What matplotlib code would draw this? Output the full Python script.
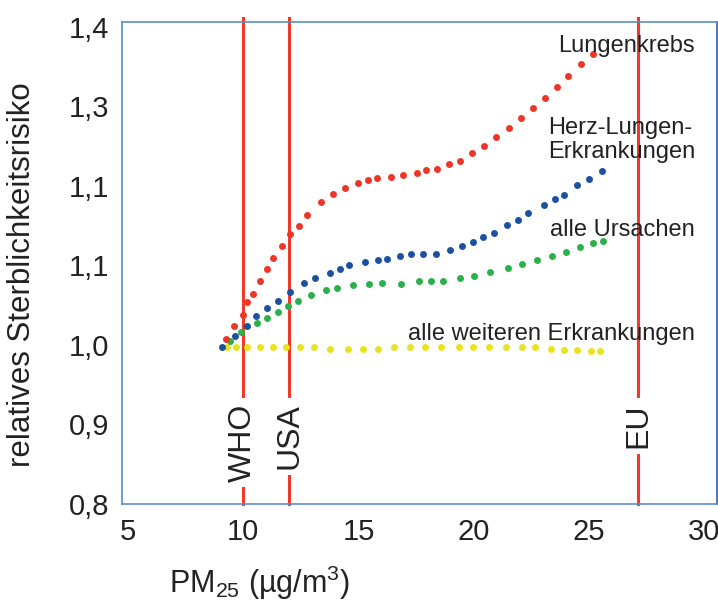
import matplotlib
matplotlib.use("Agg")
import matplotlib.pyplot as plt

plt.rcParams['font.family'] = ['Liberation Sans', 'DejaVu Sans']
plt.rcParams['mathtext.fontset'] = 'custom'
plt.rcParams['mathtext.rm'] = 'Liberation Sans'

# Lungenkrebs
lung_x = [9.24, 9.59, 9.98, 10.17, 10.43, 10.72, 11.03, 11.31, 11.70, 12.03, 12.41, 12.76,
          13.37, 13.91, 14.41, 14.96, 15.40, 15.82, 16.40, 16.95, 17.54, 17.95, 18.43, 18.93,
          19.43, 19.93, 20.47, 20.98, 21.53, 22.05, 22.58, 23.12, 23.62, 24.11, 24.67, 25.17]
lung_y = [1.008, 1.024, 1.038, 1.054, 1.064, 1.080, 1.096, 1.110, 1.124, 1.140, 1.150, 1.163,
          1.180, 1.190, 1.198, 1.204, 1.207, 1.210, 1.211, 1.214, 1.216, 1.220, 1.221, 1.227,
          1.231, 1.241, 1.250, 1.261, 1.273, 1.285, 1.298, 1.311, 1.325, 1.338, 1.353, 1.366]

# Herz-Lungen-Erkrankungen
herz_x = [9.07, 9.62, 10.14, 10.57, 11.03, 11.51, 12.01, 12.62, 13.12, 13.75, 14.20, 14.61,
          15.30, 15.85, 16.26, 16.80, 17.30, 17.79, 18.38, 18.99, 19.48, 19.98, 20.40, 20.88,
          21.43, 21.93, 22.38, 23.08, 23.53, 23.93, 24.51, 25.01, 25.57]
herz_y = [0.998, 1.011, 1.024, 1.036, 1.046, 1.055, 1.067, 1.078, 1.084, 1.091, 1.096, 1.101,
          1.104, 1.107, 1.108, 1.112, 1.114, 1.115, 1.115, 1.120, 1.124, 1.130, 1.136, 1.141,
          1.151, 1.157, 1.166, 1.176, 1.183, 1.189, 1.201, 1.209, 1.219]

# alle Ursachen
alle_x = [9.43, 9.88, 10.60, 11.02, 11.51, 11.93, 12.36, 12.93, 13.57, 14.06, 14.77, 15.47,
          16.04, 16.85, 17.64, 18.16, 18.69, 19.39, 20.01, 20.73, 21.48, 22.11, 22.77, 23.41,
          24.01, 24.61, 25.20, 25.61]
alle_y = [1.005, 1.016, 1.028, 1.034, 1.042, 1.049, 1.055, 1.063, 1.069, 1.072, 1.075, 1.077,
          1.078, 1.077, 1.080, 1.080, 1.081, 1.084, 1.087, 1.092, 1.097, 1.102, 1.107, 1.112,
          1.117, 1.123, 1.128, 1.131]

# alle weiteren Erkrankungen
weitere_x = [9.27, 9.67, 10.14, 10.72, 11.31, 11.84, 12.46, 13.08, 13.75, 14.56, 15.20, 15.83,
             16.54, 17.24, 17.88, 18.57, 19.38, 19.96, 20.67, 21.41, 22.11, 22.66, 23.35, 23.92,
             24.51, 25.08, 25.51]
weitere_y = [0.998, 0.997, 0.997, 0.997, 0.997, 0.997, 0.997, 0.997, 0.995, 0.995, 0.995, 0.995,
             0.997, 0.997, 0.997, 0.997, 0.998, 0.998, 0.998, 0.998, 0.998, 0.997, 0.995, 0.994,
             0.994, 0.993, 0.993]

# Grenzwerte
limit_x = [10, 12, 27.15]
limit_names = ["WHO", "USA", "EU"]

y_ticks = [0.8, 0.9, 1.0, 1.1, 1.2, 1.3, 1.4]
y_tick_labels = ["0,8", "0,9", "1,0", "1,1", "1,1", "1,3", "1,4"]
x_ticks = [5, 10, 15, 20, 25, 30]

fig = plt.figure(figsize=(7.18, 6.02), dpi=100)
ax = fig.add_axes([0.1696, 0.1628, 0.8286, 0.8012])

line_red = "#ee3a2a"
for x, name in zip(limit_x, limit_names):
    ax.axvline(x, ymin=0, ymax=1.008, color=line_red, linewidth=2.2, clip_on=False, zorder=1)
    ax.text(x, 0.9266, name, rotation=90, ha="center", va="top", fontsize=23, color="#222222",
            bbox=dict(boxstyle="square,pad=0.18", facecolor="white", edgecolor="none"), zorder=2)

ax.plot(weitere_x, weitere_y, 'o', color="#e6e41e", markersize=5, markeredgewidth=0, zorder=3)
ax.plot(alle_x, alle_y, 'o', color="#2bb04a", markersize=5, markeredgewidth=0, zorder=3)
ax.plot(herz_x, herz_y, 'o', color="#1c50a0", markersize=5, markeredgewidth=0, zorder=3)
ax.plot(lung_x, lung_y, 'o', color="#ee3526", markersize=5, markeredgewidth=0, zorder=3)

txt = dict(fontsize=17, color="#222222")
ax.text(29.62, 1.376, "Lungenkrebs", ha="right", va="center", **txt)
ax.text(23.25, 1.258, "Herz-Lungen-\nErkrankungen", ha="left", va="center",
        multialignment="left", linespacing=1.15, **txt)
ax.text(29.62, 1.145, "alle Ursachen", ha="right", va="center", **txt)
ax.text(29.62, 1.014, "alle weiteren Erkrankungen", ha="right", va="center", **txt)

ax.set_xlim(4.72, 30.56)
ax.set_ylim(0.8025, 1.4066)
ax.set_xticks(x_ticks)
ax.set_xticklabels([str(t) for t in x_ticks])
ax.set_yticks(y_ticks)
ax.set_yticklabels(y_tick_labels)
ax.tick_params(length=0, labelsize=21, colors="#222222")
ax.tick_params(axis="y", pad=9)
ax.tick_params(axis="x", pad=10)

for side in ["left", "bottom", "top", "right"]:
    ax.spines[side].set_color("#5b8ec9")
    ax.spines[side].set_linewidth(1.2)
ax.spines["right"].set_color("#2a62ad")

fig.text(0.030, 0.543, "relatives Sterblichkeitsrisiko", rotation=90, ha="center", va="center",
         fontsize=22.5, color="#222222")
fig.text(0.236, 0.032, r"PM$_{\mathrm{25}}$ (µg/m$^{\mathrm{3}}$)", ha="left", va="center",
         fontsize=22, color="#222222")

fig.savefig("out.png", dpi=100)
